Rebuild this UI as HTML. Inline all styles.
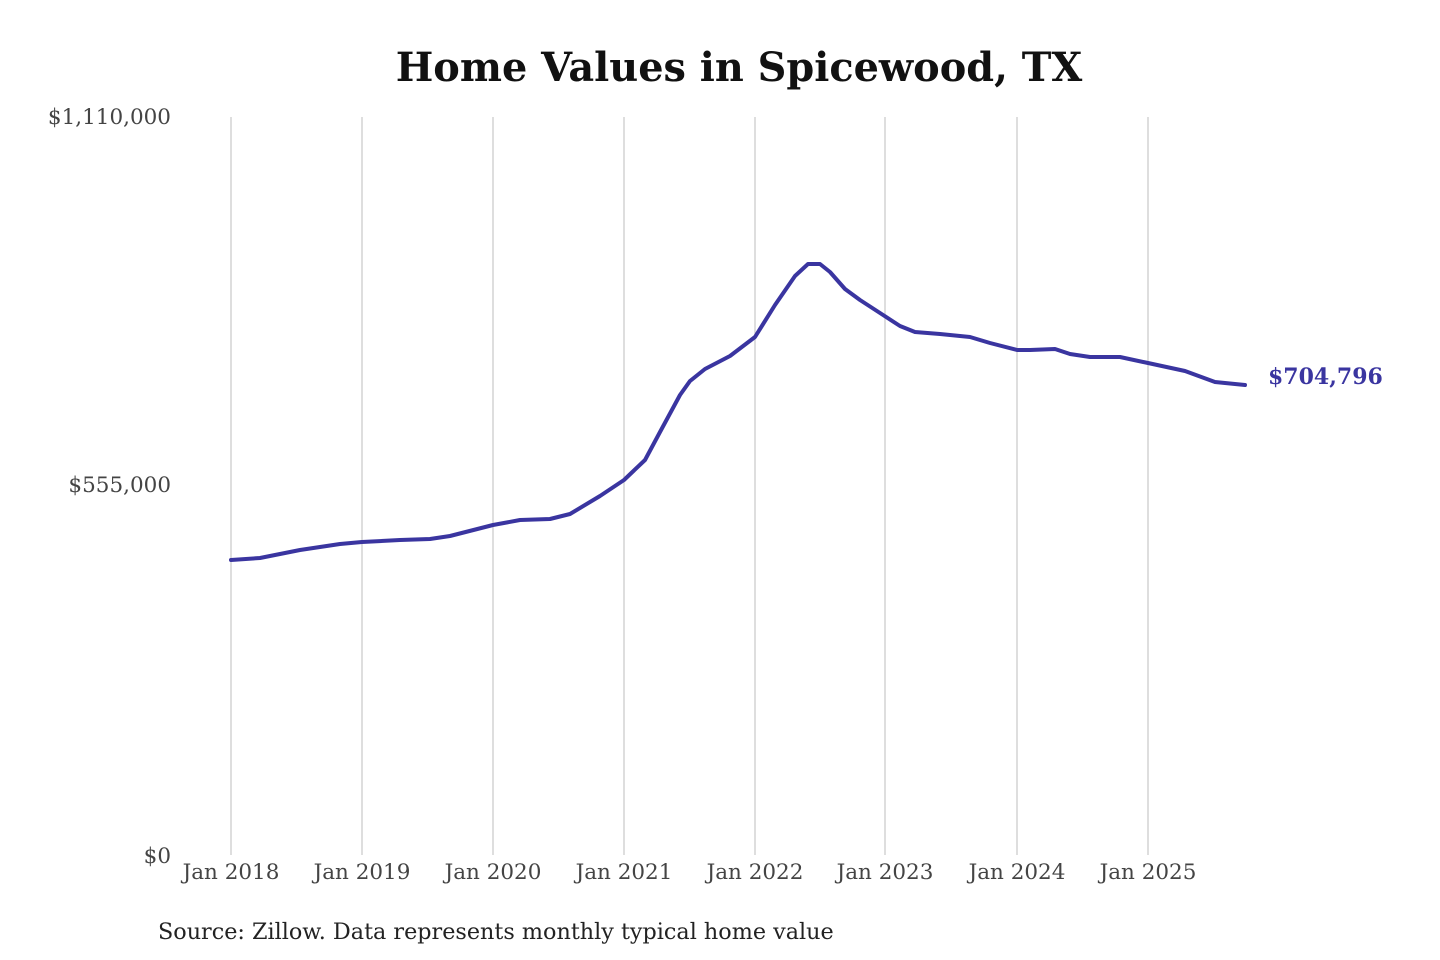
<!DOCTYPE html>
<html><head><meta charset="utf-8"><style>
body{margin:0;background:#fff;width:1440px;height:960px;overflow:hidden}
svg{display:block}
</style></head><body>
<svg width="1440" height="960" xmlns="http://www.w3.org/2000/svg" font-family="'DejaVu Serif','Liberation Serif',serif">
<text x="739" y="81" text-anchor="middle" font-size="39.8" font-weight="bold" fill="#111">Home Values in Spicewood, TX</text>
<g stroke="#c8c8c8" stroke-width="1.2">
<line x1="231" y1="117" x2="231" y2="855"/><line x1="362" y1="117" x2="362" y2="855"/>
<line x1="493" y1="117" x2="493" y2="855"/><line x1="624" y1="117" x2="624" y2="855"/>
<line x1="755" y1="117" x2="755" y2="855"/><line x1="885" y1="117" x2="885" y2="855"/>
<line x1="1017" y1="117" x2="1017" y2="855"/><line x1="1148" y1="117" x2="1148" y2="855"/>
</g>
<g font-size="21.5" fill="#444" text-anchor="end">
<text x="171" y="124">$1,110,000</text>
<text x="171" y="492">$555,000</text>
<text x="171" y="863">$0</text>
</g>
<g font-size="21.5" fill="#444" text-anchor="middle">
<text x="231" y="879">Jan 2018</text><text x="362" y="879">Jan 2019</text>
<text x="493" y="879">Jan 2020</text><text x="624" y="879">Jan 2021</text>
<text x="755" y="879">Jan 2022</text><text x="885" y="879">Jan 2023</text>
<text x="1017" y="879">Jan 2024</text><text x="1148" y="879">Jan 2025</text>
</g>
<path fill="none" stroke="#3a35a0" stroke-width="4" stroke-linejoin="round" stroke-linecap="round" d="M231,560 L260,558 L300,550 L340,544 L362,542 L400,540 L430,539 L450,536 L493,525 L520,520 L550,519 L570,514 L600,496 L624,480 L645,460 L660,432 L680,395 L690,381 L705,369 L730,356 L755,337 L775,305 L795,276 L808,264 L820,264 L830,272 L845,289 L860,300 L880,313 L900,326 L915,332 L940,334 L970,337 L990,343 L1017,350 L1030,350 L1055,349 L1070,354 L1090,357 L1120,357 L1148,363 L1185,371 L1215,382 L1245,385"/>
<text x="1268" y="384" font-size="22" font-weight="bold" fill="#3a35a0">$704,796</text>
<text x="158" y="939" font-size="22.3" fill="#222">Source: Zillow. Data represents monthly typical home value</text>
</svg>
</body></html>
